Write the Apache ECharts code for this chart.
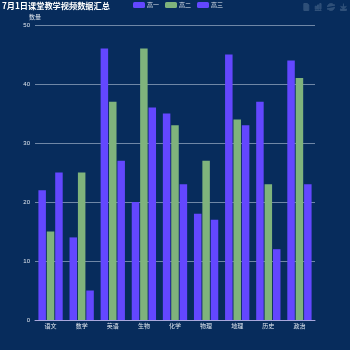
<!DOCTYPE html>
<html><head><meta charset="utf-8">
<style>html,body{margin:0;padding:0;background:#072c5c}#c{width:350px;height:350px}</style>
<script src="https://cdn.jsdelivr.net/npm/echarts@6/dist/echarts.min.js"></script>
</head><body><div id="c"></div>
<script>
const categories = ['语文','数学','英语','生物','化学','物理','地理','历史','政治'];
const grade1 = [22,14,46,20,35,18,45,37,44];
const grade2 = [15,25,37,46,33,27,34,23,41];
const grade3 = [25,5,27,36,23,17,33,12,23];
const seriesNames = ['高一','高二','高三'];
const seriesValues = [grade1, grade2, grade3];
const seriesColors = ['#6347ff','#7fb37c','#6347ff'];
const chart = echarts.init(document.getElementById('c'), null, {renderer:'canvas'});
chart.setOption({
  animation:false,
  backgroundColor:'#072c5c',
  title:{text:'7月1日课堂教学视频数据汇总',left:2,top:2,padding:0,textStyle:{color:'#fff',fontSize:8.2,fontWeight:'bold',fontFamily:'Noto Sans CJK SC'}},
  legend:{top:2,left:133,padding:0,itemWidth:12,itemHeight:6,itemGap:6,textStyle:{color:'#dfe6ee',fontSize:6,padding:[0,0,0,-3],fontFamily:'Noto Sans CJK SC'},data:seriesNames},
  toolbox:{right:3,top:3,padding:0,itemSize:7,itemGap:5,iconStyle:{borderColor:'#2f5079',color:'#2f5079'},feature:{dataView:{},magicType:{type:['bar']},restore:{},saveAsImage:{}}},
  grid:{left:35,right:35,top:25,bottom:30},
  xAxis:{type:'category',data:categories,axisLine:{lineStyle:{color:'#a9a8dc'}},axisTick:{lineStyle:{color:'#a9b8cc'},length:3},axisLabel:{color:'#dfe6ee',fontSize:6,margin:3,fontFamily:'Noto Sans CJK SC'}},
  yAxis:{type:'value',name:'数量',min:0,max:50,interval:10,nameGap:5,nameTextStyle:{color:'#dfe6ee',fontSize:6,fontFamily:'Noto Sans CJK SC'},axisLine:{show:false},axisTick:{show:false},axisLabel:{color:'#dfe6ee',fontSize:6,margin:5},splitLine:{lineStyle:{color:'#6f87a6'}}},
  series:seriesNames.map((n,i)=>({name:n,type:'bar',data:seriesValues[i],barWidth:7.5,barGap:'12%',itemStyle:{color:seriesColors[i]}}))
});
</script></body></html>
